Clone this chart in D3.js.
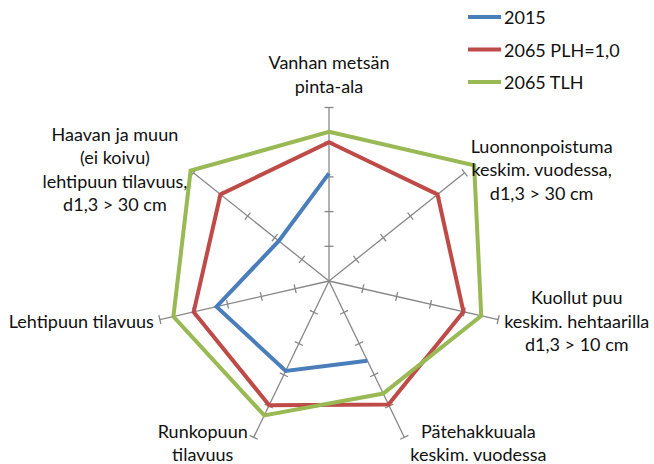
<!DOCTYPE html>
<html>
<head>
<meta charset="utf-8">
<script src="https://cdn.jsdelivr.net/npm/d3@7/dist/d3.min.js"></script>
<style>
  html, body { margin: 0; padding: 0; background: #fff; }
  svg { display: block; }
  text { font-family: Lato, "Open Sans", sans-serif; fill: #111; }
</style>
</head>
<body>
<svg id="chart" width="654" height="464"></svg>
<script>
// ---- data ----
const categories = [
  "Vanhan metsän\npinta-ala",
  "Luonnonpoistuma\nkeskim. vuodessa,\nd1,3 > 30 cm",
  "Kuollut puu\nkeskim. hehtaarilla\nd1,3 > 10 cm",
  "Pätehakkuuala\nkeskim. vuodessa",
  "Runkopuun\ntilavuus",
  "Lehtipuun tilavuus",
  "Haavan ja muun\n(ei koivu)\nlehtipuun tilavuus,\nd1,3 > 30 cm"
];
const seriesNames = ["2015", "2065 PLH=1,0", "2065 TLH"];
const values2015 = [0.62, null, null, 0.51, 0.575, 0.665, 0.37];
const valuesPLH  = [0.80, 0.80, 0.795, 0.79, 0.795, 0.80, 0.80];
const valuesTLH  = [0.86, 1.07, 0.90, 0.72, 0.86, 0.92, 1.02];
const tickValues = [0.2, 0.4, 0.6, 0.8, 1.0];
const seriesColors = ["#4A7EBB", "#BE4B48", "#98B954"];

// ---- layout ----
const cx = 329, cy = 281, R = 173.5;
const fontSize = 18, lineH = 23.5;
const svg = d3.select("#chart");
const g = svg.append("g").attr("transform", `translate(${cx},${cy})`);
const n = categories.length;
const r = d3.scaleLinear().domain([0, 1]).range([0, R]);
const angle = d3.scaleLinear().domain([0, n]).range([0, 2 * Math.PI]);
const pt = (i, v) => {
  const a = angle(i) - Math.PI / 2;
  return [Math.cos(a) * r(v), Math.sin(a) * r(v)];
};

// axes
const axisColor = "#878787";
categories.forEach((c, i) => {
  const [x1, y1] = pt(i, 1);
  g.append("line").attr("x1", 0).attr("y1", 0).attr("x2", x1).attr("y2", y1)
    .attr("stroke", axisColor).attr("stroke-width", 1.3);
  const a = angle(i) - Math.PI / 2;
  const px = -Math.sin(a), py = Math.cos(a);
  tickValues.forEach(t => {
    const [tx, ty] = pt(i, t);
    g.append("line")
      .attr("x1", tx - px * 4.5).attr("y1", ty - py * 4.5)
      .attr("x2", tx + px * 4.5).attr("y2", ty + py * 4.5)
      .attr("stroke", axisColor).attr("stroke-width", 1.3);
  });
});

// series
const allSeries = [values2015, valuesPLH, valuesTLH];
allSeries.forEach((vals, s) => {
  const full = vals.every(v => v != null);
  let line, data;
  if (full) {
    line = d3.lineRadial().angle(d => angle(d.i)).radius(d => r(d.v)).curve(d3.curveLinearClosed);
    data = vals.map((v, i) => ({ i, v }));
  } else {
    line = d3.lineRadial().angle(d => angle(d.i)).radius(d => r(d.v))
      .defined(d => d.v != null).curve(d3.curveLinear);
    data = d3.range(n + 1).map(i => ({ i, v: vals[i % n] }));
  }
  g.append("path").attr("d", line(data))
    .attr("fill", "none").attr("stroke", seriesColors[s])
    .attr("stroke-width", 4).attr("stroke-linejoin", "miter");
});

// category labels
categories.forEach((c, i) => {
  const lines = c.split("\n");
  const a = angle(i) - Math.PI / 2;
  const [ex, ey] = pt(i, 1);
  const tg = g.append("g");
  const texts = lines.map(l => tg.append("text").attr("font-size", fontSize)
    .attr("text-anchor", "middle").attr("dominant-baseline", "central").text(l));
  const w = d3.max(texts, t => t.node().getComputedTextLength());
  let centerX, firstY;
  const cosA = Math.cos(a), sinA = Math.sin(a);
  if (Math.abs(cosA) < 0.01) {
    centerX = ex;
    firstY = ey - 10 - (lines.length - 1) * lineH - lineH / 2;
  } else {
    centerX = cosA > 0 ? ex + 6 + w / 2 : ex - 6 - w / 2;
    const midY = ey + 6 * sinA;
    firstY = midY - (lines.length - 1) * lineH / 2;
  }
  texts.forEach((t, k) => t.attr("x", centerX).attr("y", firstY + k * lineH));
});

// legend
const legend = svg.append("g");
seriesNames.forEach((name, s) => {
  const y = 17 + s * 32.5;
  legend.append("line").attr("x1", 468).attr("x2", 501).attr("y1", y).attr("y2", y)
    .attr("stroke", seriesColors[s]).attr("stroke-width", 4);
  legend.append("text").attr("x", 504).attr("y", y).attr("dominant-baseline", "central")
    .attr("font-size", fontSize).text(name);
});
</script>
</body>
</html>
